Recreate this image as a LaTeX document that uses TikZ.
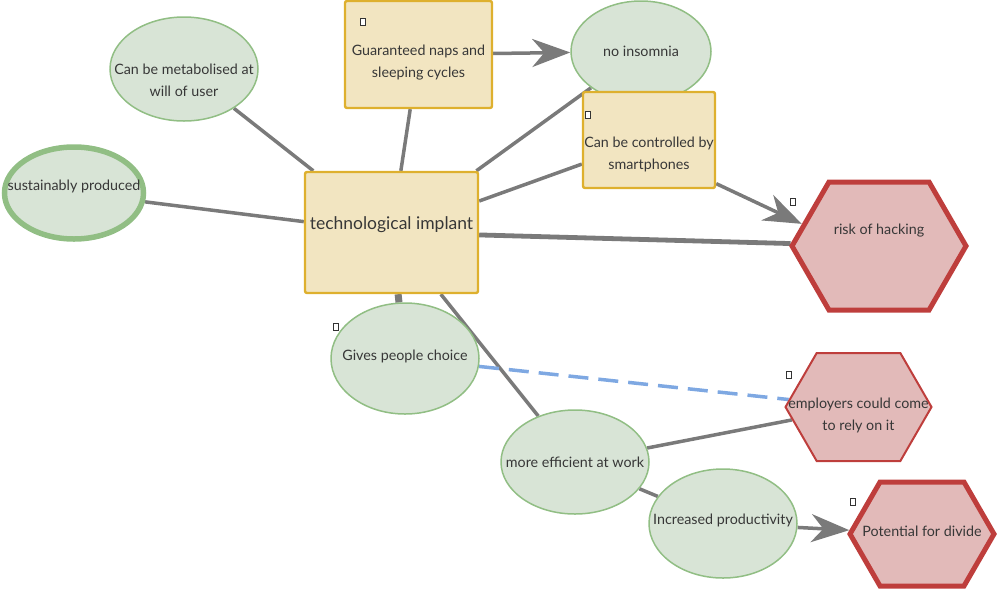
\documentclass[tikz,border=0pt]{standalone}
\usepackage{fontspec}
\setmainfont{Lato}
\usetikzlibrary{arrows.meta,shapes.geometric,shapes.symbols,backgrounds}
\definecolor{boxfill}{RGB}{242,229,193}
\definecolor{boxline}{RGB}{222,176,46}
\definecolor{ovalfill}{RGB}{216,228,214}
\definecolor{ovalline}{RGB}{145,190,132}
\definecolor{hexfill}{RGB}{226,186,185}
\definecolor{hexline}{RGB}{190,62,60}
\definecolor{linkgray}{RGB}{122,122,122}
\definecolor{linkblue}{RGB}{126,168,226}
\definecolor{inkgray}{RGB}{55,55,55}
\tikzset{
  every node/.style={text=inkgray, font=\fontsize{14.3}{22}\selectfont, align=center, inner sep=0pt},
  ybox/.style={draw=boxline, fill=boxfill, line width=2.4pt, rounded corners=2pt},
  oval/.style={ellipse, draw=ovalline, fill=ovalfill, line width=1.5pt},
  hexa/.style={signal, signal to=east and west, signal pointer angle=120,
    draw=hexline, fill=hexfill, line width=2pt},
  link/.style={draw=linkgray, line width=3.5pt},
  arrowlink/.style={link, -{Stealth[length=38pt, width=28pt, inset=12pt]}},
  glyphbox/.style={draw=black!80, line width=0.6pt, minimum width=4.5pt, minimum height=6.5pt, fill=white}
}
\begin{document}
\begin{tikzpicture}[x=1pt, y=-1pt]
\useasboundingbox (0,0) rectangle (1000,590);

% nodes; the caption of each shape sits in its centre label
\node[ybox, minimum width=173pt, minimum height=121pt,
  label={[yshift=7.5pt, font=\fontsize{17.5}{20}\selectfont]center:technological implant}]
  (tech) at (391.5,232.5) {};
\node[ybox, minimum width=147pt, minimum height=107pt,
  label={[yshift=-8.5pt]center:Guaranteed naps and\\sleeping cycles}] (naps) at (418.5,54.5) {};
\node[oval, minimum width=140pt, minimum height=101pt,
  label={center:no insomnia}] (insomnia) at (641,51.5) {};
\node[ybox, minimum width=132pt, minimum height=96pt,
  label={[yshift=-14pt]center:Can be controlled by\\smartphones}] (phone) at (649,140) {};
\node[oval, minimum width=148pt, minimum height=104pt,
  label={[yshift=-11pt]center:Can be metabolised at\\will of user}] (metab) at (184,69) {};
\node[oval, line width=5.5pt, minimum width=139pt, minimum height=92pt,
  label={[yshift=7pt]center:sustainably produced}] (sustain) at (74,193) {};
\node[hexa, line width=5pt, minimum width=174pt, minimum height=128pt,
  label={[yshift=15pt]center:risk of hacking}] (hack) at (879,246) {};
\node[oval, minimum width=148pt, minimum height=111pt,
  label={[yshift=2.5pt]center:Gives people choice}] (choice) at (405,358.5) {};
\node[hexa, minimum width=146pt, minimum height=108pt,
  label={[yshift=-8.5pt]center:employers could come\\to rely on it}] (employ) at (858.5,407) {};
\node[oval, minimum width=148pt, minimum height=104pt,
  label={center:more efficient at work}] (work) at (575,462) {};
\node[oval, minimum width=148pt, minimum height=109pt,
  label={[yshift=3.5pt]center:Increased productivity}] (prod) at (723,523.5) {};
\node[hexa, line width=5pt, minimum width=144pt, minimum height=104pt,
  label={[yshift=3pt]center:Potential for divide}] (divide) at (922,534) {};

% small glyph boxes beside some shapes
\node[glyphbox] (g1) at (363,22) {};
\node[glyphbox] (g2) at (588,115) {};
\node[glyphbox] (g3) at (793,202) {};
\node[glyphbox] (g4) at (336,327) {};
\node[glyphbox] (g5) at (789,375) {};
\node[glyphbox] (g6) at (853,502) {};

% connectors, kept behind the shapes
\begin{scope}[on background layer]
\draw[link] (tech) -- (naps);
\draw[link] (tech) -- (metab);
\draw[link] (tech) -- (sustain);
\draw[link] (tech) -- (insomnia);
\draw[link] (tech) -- (phone);
\draw[link, line width=4.8pt] (tech) -- (hack);
\draw[link, line width=7pt] (tech) -- (choice);
\draw[link] (tech) -- (work);
\draw[link] (work) -- (employ);
\draw[link] (work) -- (prod);
\draw[draw=linkblue, line width=3.5pt, dash pattern=on 20pt off 10pt] (choice) -- (employ);
\draw[arrowlink] (naps) -- (insomnia);
\draw[arrowlink] (phone.-33) -- (hack.164);
\draw[arrowlink] (prod) -- (divide);
\end{scope}
\end{tikzpicture}
\end{document}
